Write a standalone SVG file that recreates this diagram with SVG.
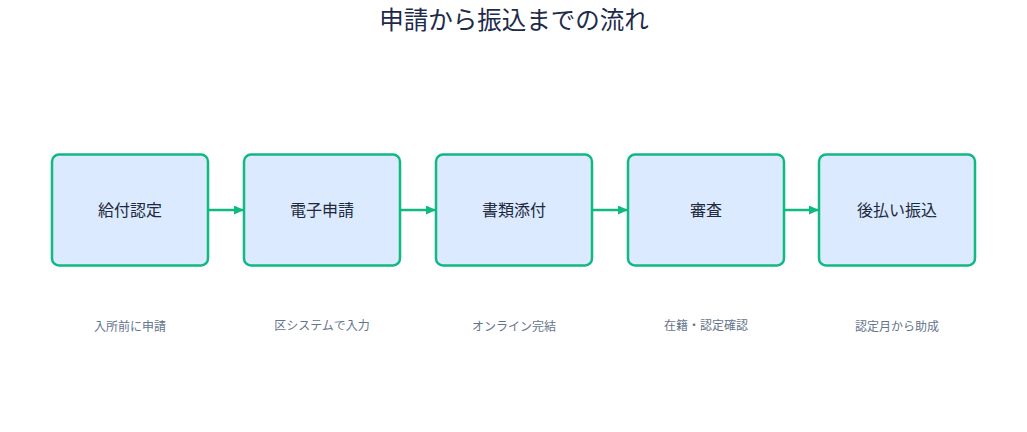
<svg xmlns="http://www.w3.org/2000/svg" width="1027" height="432" viewBox="0 0 1027 432">
<style>
text{font-family:"Noto Sans CJK JP","Noto Sans",sans-serif;text-anchor:middle}
.box{fill:#dbeafe;stroke:#10b981;stroke-width:2.5}
.lbl{font-size:16px;fill:#1e293b}
.sub{font-size:12px;fill:#64748b}
.title{font-size:24.5px;fill:#1e2a4a}
.edge{stroke:#10b981;stroke-width:2.5;fill:none}
</style>
<defs>
<marker id="arr" viewBox="0 0 10 10" refX="9" refY="5" markerWidth="10" markerHeight="9" markerUnits="userSpaceOnUse" orient="auto" preserveAspectRatio="none">
<path d="M0,0 L10,5 L0,10 z" fill="#10b981"/>
</marker>
</defs>
<rect width="1027" height="432" fill="#ffffff"/>
<text class="title" x="514" y="28.5">申請から振込までの流れ</text>
<g id="connectors">
<line class="edge" x1="209" y1="210" x2="243" y2="210" marker-end="url(#arr)"/>
<line class="edge" x1="401" y1="210" x2="435" y2="210" marker-end="url(#arr)"/>
<line class="edge" x1="593" y1="210" x2="627" y2="210" marker-end="url(#arr)"/>
<line class="edge" x1="785" y1="210" x2="818" y2="210" marker-end="url(#arr)"/>
</g>
<g id="n1"><rect class="box" x="52" y="154.5" width="156" height="111" rx="7"/><text class="lbl" x="130" y="215.5">給付認定</text><text class="sub" x="130" y="331">入所前に申請</text></g>
<g id="n2"><rect class="box" x="244" y="154.5" width="156" height="111" rx="7"/><text class="lbl" x="322" y="215.5">電子申請</text><text class="sub" x="322" y="330">区システムで入力</text></g>
<g id="n3"><rect class="box" x="436" y="154.5" width="156" height="111" rx="7"/><text class="lbl" x="514" y="215.5">書類添付</text><text class="sub" x="514" y="331">オンライン完結</text></g>
<g id="n4"><rect class="box" x="628" y="154.5" width="156" height="111" rx="7"/><text class="lbl" x="706" y="215.5">審査</text><text class="sub" x="706" y="330">在籍・認定確認</text></g>
<g id="n5"><rect class="box" x="819" y="154.5" width="156" height="111" rx="7"/><text class="lbl" x="897" y="215.5">後払い振込</text><text class="sub" x="897" y="331">認定月から助成</text></g>
</svg>
